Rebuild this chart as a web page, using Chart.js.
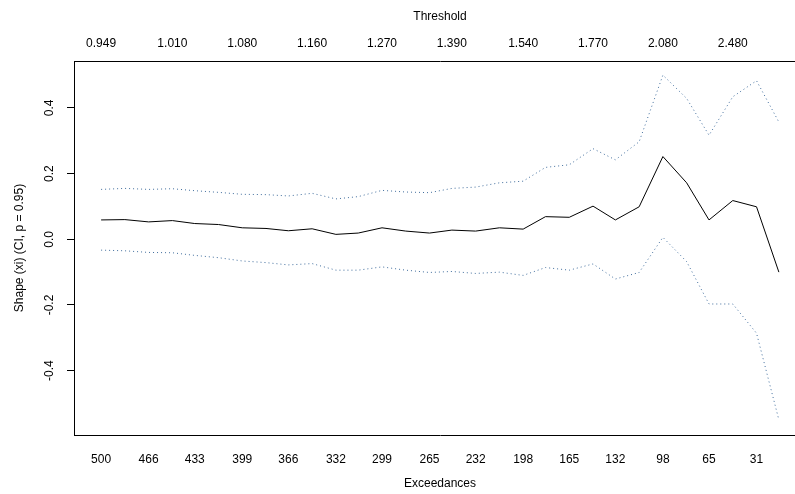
<!DOCTYPE html>
<html>
<head>
<meta charset="utf-8">
<script src="https://cdn.jsdelivr.net/npm/chart.js@4/dist/chart.umd.min.js"></script>
<style>
  html, body { margin: 0; padding: 0; overflow: hidden; background: #fff; width: 795px; height: 494px; }
  #wrap { position: absolute; left: 0; top: 0; width: 806px; height: 494px; }
</style>
</head>
<body>
<div id="wrap"><canvas id="shape" width="806" height="494"></canvas></div>
<script>
// number of exceedances for each fitted model (30 models, 500 down to 15)
const exceedances = [500, 483, 466, 449, 433, 416, 399, 382, 366, 349, 332, 316, 299, 282, 265,
                     249, 232, 215, 198, 182, 165, 148, 132, 115, 98, 81, 65, 48, 31, 15];
// shape estimate xi
const shapeEst = [0.059, 0.060, 0.053, 0.057, 0.048, 0.045, 0.035, 0.033, 0.026, 0.032, 0.015, 0.019, 0.035, 0.025, 0.019,
                  0.028, 0.025, 0.035, 0.031, 0.069, 0.067, 0.101, 0.059, 0.099, 0.252, 0.172, 0.059, 0.118, 0.099, -0.100];
// 95% confidence bounds
const lowerCI = [-0.033, -0.035, -0.040, -0.041, -0.049, -0.056, -0.066, -0.071, -0.078, -0.074, -0.094, -0.094, -0.084, -0.094, -0.101,
                 -0.098, -0.104, -0.100, -0.110, -0.086, -0.094, -0.075, -0.121, -0.101, 0.006, -0.068, -0.197, -0.197, -0.286, -0.550];
const upperCI = [0.152, 0.155, 0.152, 0.154, 0.148, 0.143, 0.137, 0.136, 0.132, 0.140, 0.123, 0.130, 0.149, 0.144, 0.142,
                 0.155, 0.159, 0.172, 0.177, 0.219, 0.227, 0.276, 0.242, 0.297, 0.500, 0.429, 0.317, 0.434, 0.483, 0.357];
// threshold labels shown on top axis (every 3rd model)
const thresholdLabels = ['0.949', '1.010', '1.080', '1.160', '1.270', '1.390', '1.540', '1.770', '2.080', '2.480'];
const yTicks = [-0.4, -0.2, 0, 0.2, 0.4];

const FONT = { family: "'Liberation Sans', Arial, Helvetica, sans-serif", size: 12 };
Chart.defaults.color = '#000';
Chart.defaults.font = FONT;

const pts = arr => exceedances.map((e, i) => ({ x: e, y: arr[i] }));

// R style axis range: data range plus 4% on each side
const xMin = 15 - 0.04 * 485, xMax = 500 + 0.04 * 485;

new Chart(document.getElementById('shape'), {
  type: 'line',
  data: {
    datasets: [
      { label: 'xi', data: pts(shapeEst), borderColor: '#000', borderWidth: 1, pointRadius: 0, tension: 0 },
      { label: 'lower', data: pts(lowerCI), borderColor: '#3f6c9c', borderWidth: 1, borderDash: [1, 3], pointRadius: 0, tension: 0 },
      { label: 'upper', data: pts(upperCI), borderColor: '#3f6c9c', borderWidth: 1, borderDash: [1, 3], pointRadius: 0, tension: 0 }
    ]
  },
  options: {
    responsive: false,
    animation: false,
    layout: { padding: 0 },
    plugins: { legend: { display: false }, tooltip: { enabled: false } },
    scales: {
      x: {
        type: 'linear', position: 'bottom', reverse: true, min: xMin, max: xMax,
        afterBuildTicks: s => { s.ticks = exceedances.filter((_, i) => i % 2 === 0).map(v => ({ value: v })); },
        afterFit: s => { s.height = 59; s.paddingLeft = 0; s.paddingRight = 0; },
        grid: { display: false, drawTicks: false },
        border: { display: true, color: '#000', width: 1 },
        ticks: { autoSkip: false, maxRotation: 0, padding: 17, callback: v => String(v) },
        title: { display: true, text: 'Exceedances', padding: 3 }
      },
      x2: {
        type: 'linear', position: 'top', reverse: true, min: xMin, max: xMax,
        afterBuildTicks: s => { s.ticks = thresholdLabels.map((_, k) => ({ value: exceedances[3 * k] })); },
        afterFit: s => { s.height = 61; s.paddingLeft = 0; s.paddingRight = 0; },
        grid: { display: false, drawTicks: false },
        border: { display: true, color: '#000', width: 1 },
        ticks: { autoSkip: false, maxRotation: 0, padding: 10, callback: (v, i) => thresholdLabels[i] },
        title: { display: true, text: 'Threshold', padding: 9 }
      },
      y: {
        type: 'linear', position: 'left', min: -0.596, max: 0.543,
        afterBuildTicks: s => { s.ticks = yTicks.map(v => ({ value: v })); },
        afterFit: s => { s.width = 74; s.paddingTop = 0; s.paddingBottom = 0; },
        grid: { display: true, drawOnChartArea: false, drawTicks: true, tickLength: 7, color: '#000' },
        border: { display: true, color: '#000', width: 1 },
        ticks: { minRotation: 90, maxRotation: 90, crossAlign: 'center', padding: 7, callback: v => v.toFixed(1) },
        title: { display: true, text: 'Shape (xi) (CI, p = 0.95)', padding: 12 }
      }
    }
  }
});
</script>
</body>
</html>
